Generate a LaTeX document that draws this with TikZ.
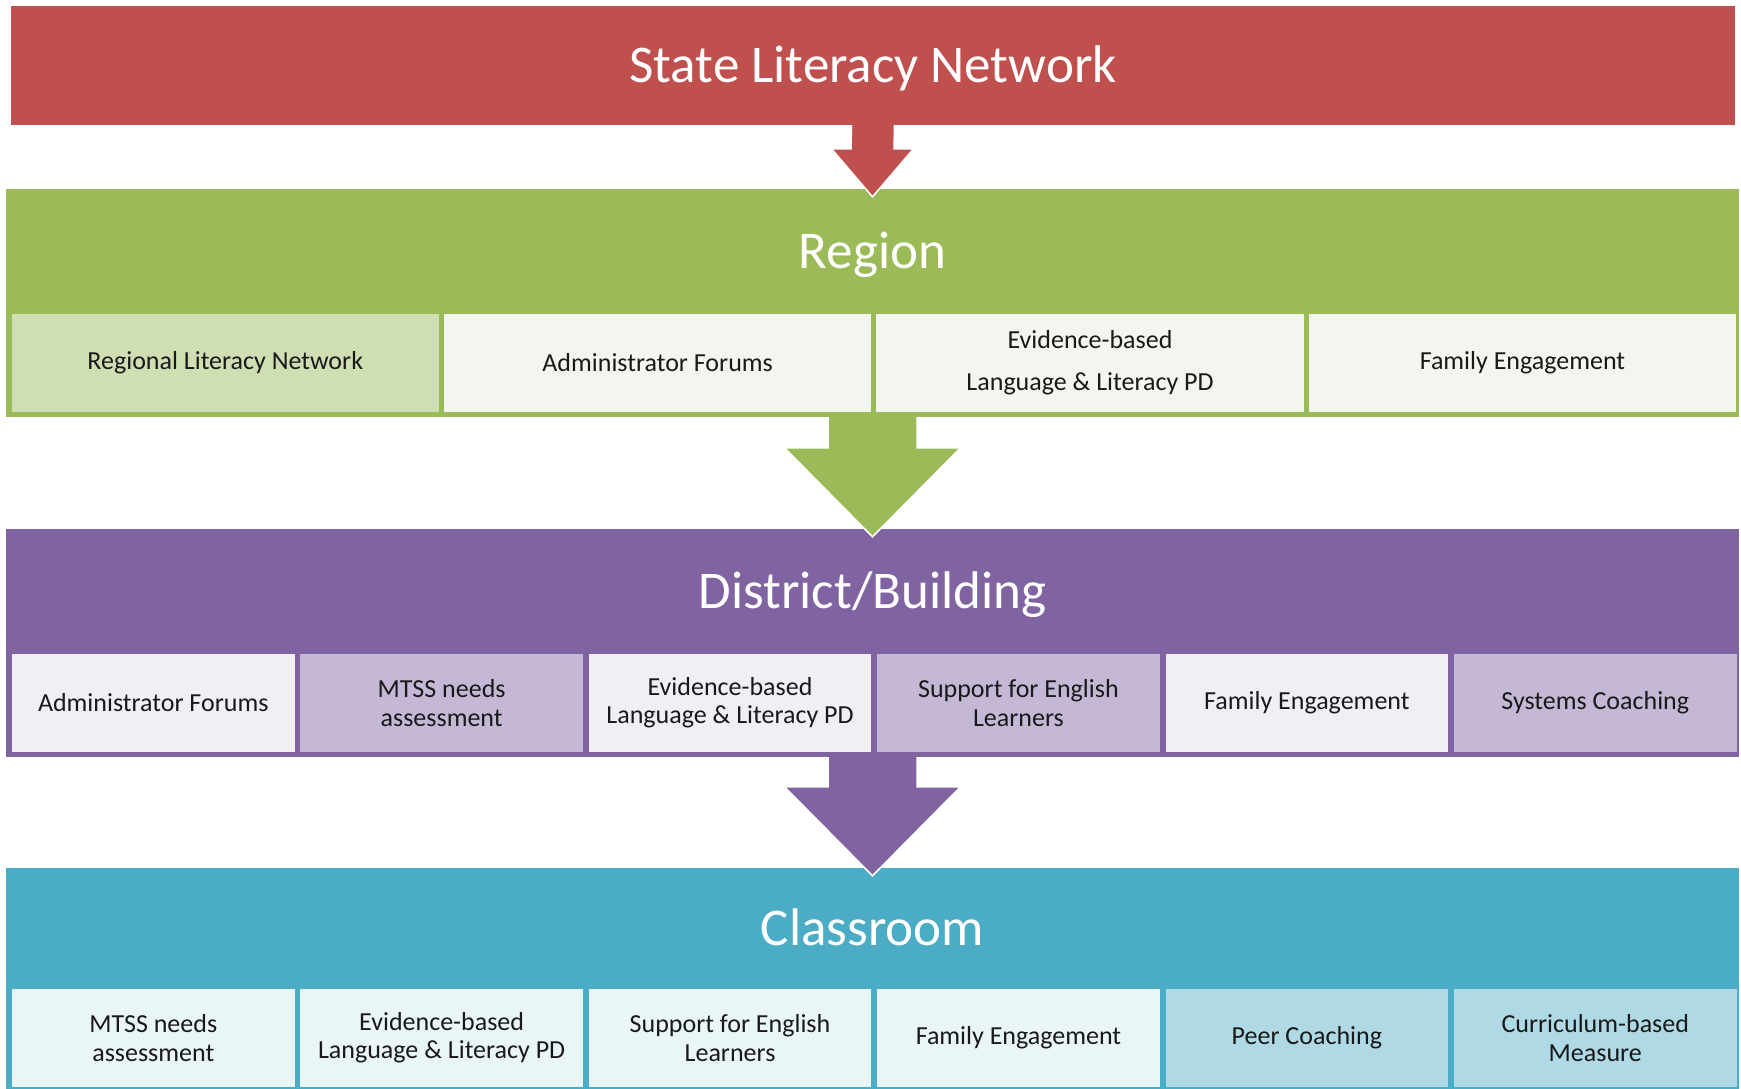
\documentclass[tikz,border=0pt]{standalone}
\usepackage{fontspec}
\setmainfont{Carlito}
\usetikzlibrary{positioning,calc}
\definecolor{tierred}{HTML}{C0504D}
\definecolor{tiergreen}{HTML}{9BBB59}
\definecolor{tierpurple}{HTML}{8064A2}
\definecolor{tiercyan}{HTML}{4BACC6}
\definecolor{greendark}{HTML}{D0DFB3}
\definecolor{greenpale}{HTML}{F3F6EE}
\definecolor{purpledark}{HTML}{C5B8D6}
\definecolor{purplepale}{HTML}{F1EFF5}
\definecolor{cyandark}{HTML}{AED9E5}
\definecolor{cyanpale}{HTML}{EAF5F8}
\tikzset{
  tierbox/.style={rectangle, draw=none, inner sep=0pt, minimum width=1733pt},
  tiertitle/.style={rectangle, draw=none, inner sep=0pt, text=white,
                    font=\fontsize{53}{60}\selectfont, text height=34pt, text depth=0pt,
                    minimum width=1733pt},
  cell/.style={rectangle, draw=none, inner sep=0pt, align=center, text=black!90,
               font=\fontsize{26}{28.3}\selectfont, minimum height=98pt},
  cellwide/.style={cell, minimum width=427.5pt},
  cellnarrow/.style={cell, minimum width=282.5pt},
  tierarr/.style={draw=white, line width=1.5pt, line join=miter},
}
% block arrow from one tier to the next: from, to, half shaft, half head, head length, colour
\newcommand{\tierarrow}[6]{%
  \path[tierarr, fill=#6]
    ($(#1.south)+(#3,0)$) -- ($(#2.north)+(#3,8-#5)$) -- ($(#2.north)+(#4,8-#5)$)
    -- ($(#2.north)+(0,8)$) -- ($(#2.north)+(-#4,8-#5)$) -- ($(#2.north)+(-#3,8-#5)$)
    -- ($(#1.south)+(-#3,0)$);
}

\begin{document}
\begin{tikzpicture}[x=1pt,y=-1pt]
    \useasboundingbox (0,0) rectangle (1741,1088);

    \node[tiertitle, fill=tierred, minimum width=1724pt, minimum height=119pt] (state) at (873,65.5) {State Literacy Network};

    \node[tierbox, fill=tiergreen, minimum height=228pt] (regionbox) at (872.5,303) {};
    \node[tiertitle, minimum height=125pt, below=0pt of regionbox.north] (regiontitle) {Region};
    \node[cellwide, fill=greendark, anchor=north west] (reg1) at ($(regionbox.north west)+(5.5,125)$) {Regional Literacy Network};
    \node[cellwide, fill=greenpale, right=4.5pt of reg1] (reg2) {Administrator Forums};
    \node[cellwide, fill=greenpale, right=4.5pt of reg2] (reg3) {Evidence-based\\[13.7pt]Language \& Literacy PD};
    \node[cellwide, fill=greenpale, right=4.5pt of reg3] (reg4) {Family Engagement};

    \node[tierbox, fill=tierpurple, minimum height=228pt] (districtbox) at (872.5,643) {};
    \node[tiertitle, minimum height=125pt, below=0pt of districtbox.north] (districttitle) {District/Building};
    \node[cellnarrow, fill=purplepale, anchor=north west] (dist1) at ($(districtbox.north west)+(6,125)$) {Administrator Forums};
    \node[cellnarrow, fill=purpledark, right=5.5pt of dist1] (dist2) {MTSS needs\\assessment};
    \node[cellnarrow, fill=purplepale, right=5.5pt of dist2] (dist3) {Evidence-based\\Language \& Literacy PD};
    \node[cellnarrow, fill=purpledark, right=5.5pt of dist3] (dist4) {Support for English\\Learners};
    \node[cellnarrow, fill=purplepale, right=5.5pt of dist4] (dist5) {Family Engagement};
    \node[cellnarrow, fill=purpledark, right=5.5pt of dist5] (dist6) {Systems Coaching};

    \node[tierbox, fill=tiercyan, minimum height=224pt] (classbox) at (872.5,980) {};
    \node[tiertitle, minimum height=121pt, below=0pt of classbox.north] (classtitle) {Classroom};
    \node[cellnarrow, fill=cyanpale, anchor=north west] (cls1) at ($(classbox.north west)+(6,121)$) {MTSS needs\\assessment};
    \node[cellnarrow, fill=cyanpale, right=5.5pt of cls1] (cls2) {Evidence-based\\Language \& Literacy PD};
    \node[cellnarrow, fill=cyanpale, right=5.5pt of cls2] (cls3) {Support for English\\Learners};
    \node[cellnarrow, fill=cyanpale, right=5.5pt of cls3] (cls4) {Family Engagement};
    \node[cellnarrow, fill=cyandark, right=5.5pt of cls4] (cls5) {Peer Coaching};
    \node[cellnarrow, fill=cyandark, right=5.5pt of cls5] (cls6) {Curriculum-based\\Measure};

    \tierarrow{state}{regionbox}{21.5}{41}{48}{tierred}
    \tierarrow{regionbox}{districtbox}{44.5}{88}{89}{tiergreen}
    \tierarrow{districtbox}{classbox}{44.5}{88}{89}{tierpurple}
\end{tikzpicture}
\end{document}
